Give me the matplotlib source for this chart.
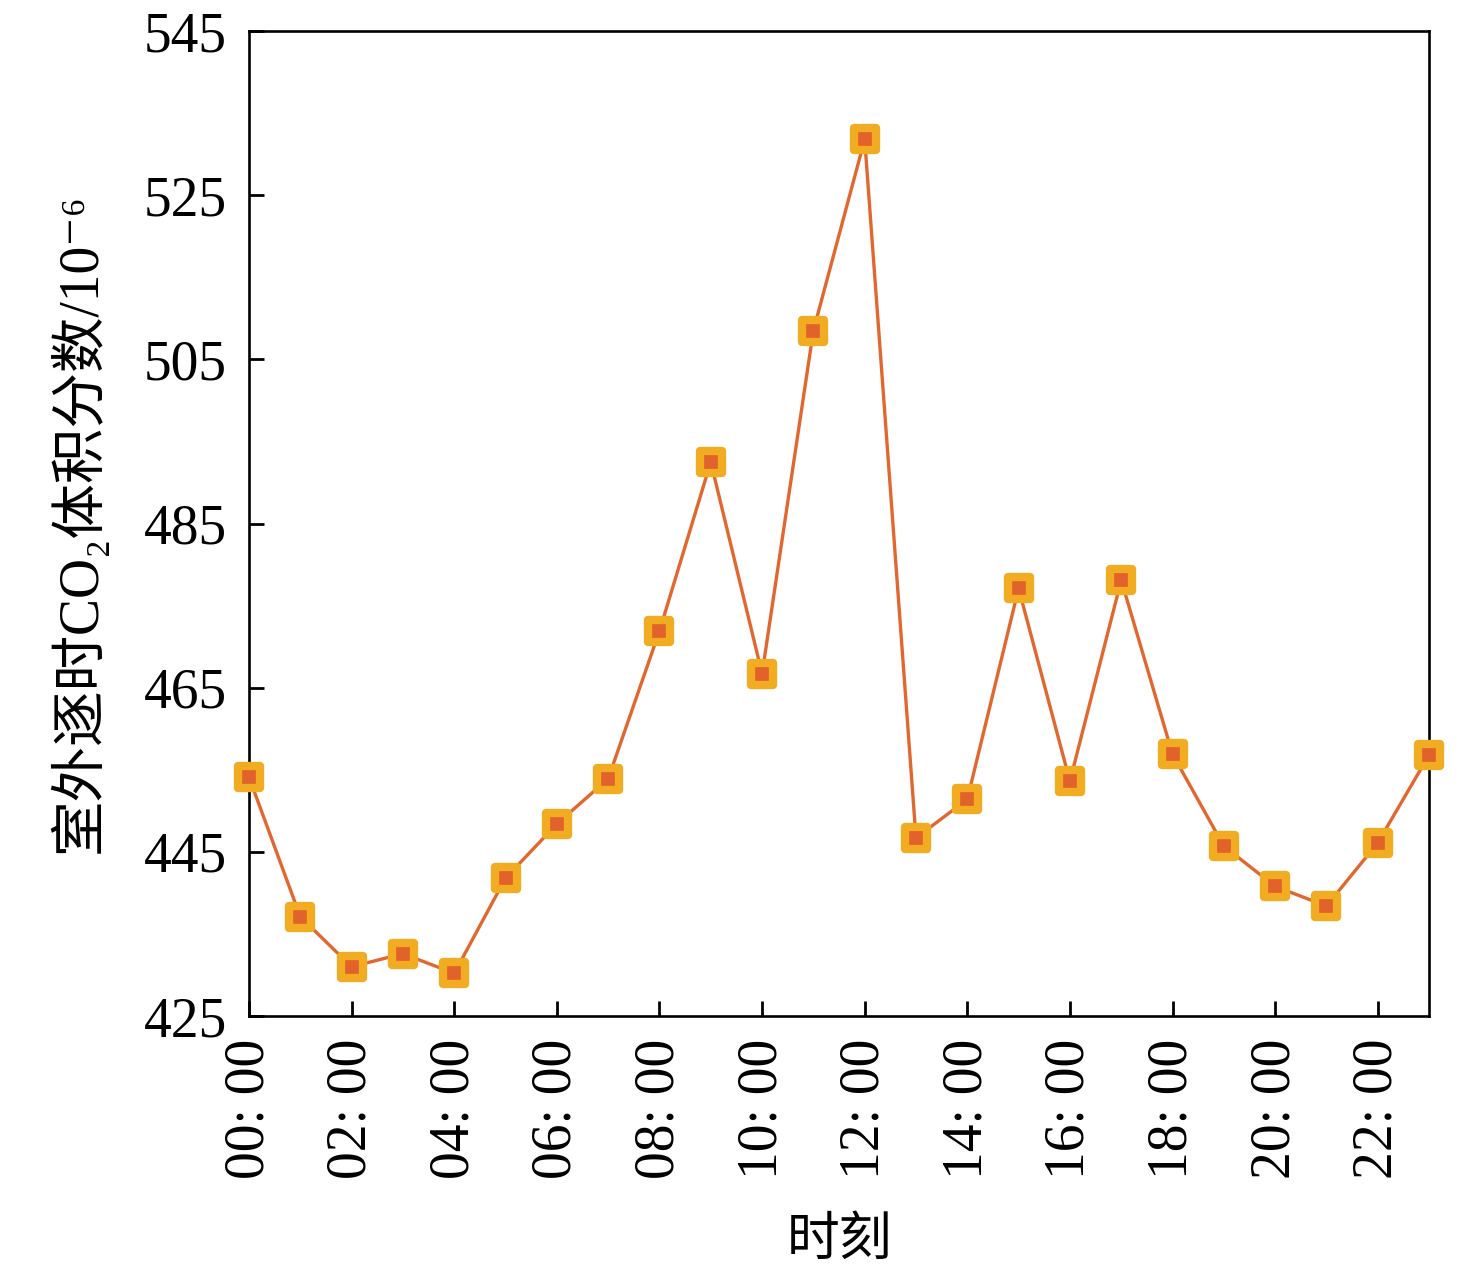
import numpy as np
import matplotlib
matplotlib.use("Agg")
import matplotlib.pyplot as plt
from matplotlib.markers import MarkerStyle

plt.rcParams['font.family'] = ['Liberation Serif', 'Noto Sans CJK SC', 'DejaVu Sans']

# hourly outdoor CO2 (10^-6)
hours = np.arange(24)
co2 = [454.1, 437.1, 431.0, 432.6, 430.2, 441.8, 448.4, 453.9, 471.9, 492.5,
       466.7, 508.5, 531.8, 446.7, 451.4, 477.1, 453.6, 478.1, 456.9, 445.7,
       440.8, 438.4, 446.1, 456.8]
xtick_pos = np.arange(0, 24, 2)
xtick_labels = [f"{h:02d}: 00" for h in xtick_pos]
yticks = np.arange(425, 546, 20)

fig = plt.figure(figsize=(14.76, 12.71), dpi=100)
ax = fig.add_axes([0.1687, 0.2006, 0.7995, 0.775])

marker = MarkerStyle('s', joinstyle='round')
ax.plot(hours, co2, color='#E2672F', linewidth=2.4, marker=marker,
        markersize=15.5, markerfacecolor='#E2622B', markeredgecolor='#F2AC22',
        markeredgewidth=6.0, clip_on=False, zorder=3)

ax.set_xlim(0, 23)
ax.set_ylim(425, 545)
ax.set_xticks(xtick_pos)
ax.set_xticklabels(xtick_labels, rotation=90)
ax.set_yticks(yticks)

ax.tick_params(direction='in', length=11, width=2, labelsize=40, pad=16)
for s in ax.spines.values():
    s.set_linewidth(1.9)

ax.set_xlabel('时刻', fontsize=38, labelpad=28)
ax.set_ylabel('室外逐时CO₂体积分数/10⁻⁶', fontsize=40, labelpad=26)

fig.savefig('out.png', dpi=100)
